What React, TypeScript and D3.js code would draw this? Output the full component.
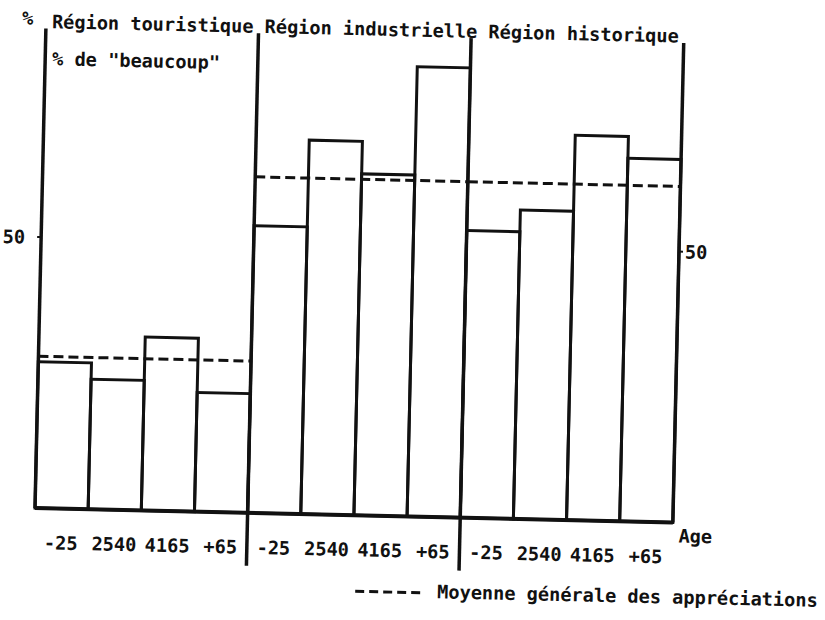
import { scaleBand, scaleLinear } from "d3";

const regions = ["Région touristique", "Région industrielle", "Région historique"];
const ageGroups = ["-25", "2540", "4165", "+65"];
const touristique = [27, 24, 32, 22];
const industrielle = [53, 69, 63, 83];
const historique = [53, 57, 71, 67];
const moyennes = [28, 62, 62];
const yTicks = [50];

const seriesByRegion = [touristique, industrielle, historique];

export default function App() {
  const width = 825;
  const height = 620;
  // the scanned page is slightly tilted, the whole chart is drawn in a rotated frame
  const originX = 35;
  const originY = 508;
  const tilt = 1.3;
  const plotWidth = 638;
  const axisTop = 88.5;
  const dividerDrop = 53;
  const font = "'DejaVu Sans Mono', 'Liberation Mono', monospace";

  const bars = regions.flatMap((region, r) =>
    ageGroups.map((age, a) => ({ key: `${region}|${age}`, region, age, value: seriesByRegion[r][a] }))
  );

  const x = scaleBand<string>()
    .domain(bars.map((b) => b.key))
    .range([0, plotWidth])
    .padding(0);

  const regionX = scaleBand<string>().domain(regions).range([0, plotWidth]).padding(0);

  const y = scaleLinear().domain([0, 50]).range([0, -271]);

  return (
    <svg
      width={width}
      height={height}
      viewBox={`0 0 ${width} ${height}`}
      style={{ position: "absolute", left: 0, top: 0, background: "#fff" }}
    >
      <rect width={width} height={height} fill="#fff" />
      <g
        transform={`translate(${originX},${originY}) rotate(${tilt})`}
        fontFamily={font}
        fontWeight="bold"
        fill="#111"
      >
        {/* title lines */}
        <text x={-24} y={-483} fontSize="18.6">
          %
        </text>
        <text x={6} y={-480} fontSize="18.6" xmlSpace="preserve">
          {regions.join(" ")}
        </text>
        <text x={7} y={-443} fontSize="18.6">
          % de "beaucoup"
        </text>

        {/* bars */}
        {bars.map((b) => (
          <rect
            key={b.key}
            x={x(b.key)}
            y={y(b.value)}
            width={x.bandwidth()}
            height={-y(b.value)}
            fill="none"
            stroke="#111"
            strokeWidth="3"
          />
        ))}

        {/* mean lines */}
        {regions.map((region, r) => (
          <line
            key={region}
            x1={regionX(region)}
            x2={(regionX(region) ?? 0) + regionX.bandwidth()}
            y1={y(moyennes[r])}
            y2={y(moyennes[r])}
            stroke="#111"
            strokeWidth="3"
            strokeDasharray="10 5"
          />
        ))}

        {/* axes and region dividers */}
        <line x1={0} x2={0} y1={y(axisTop)} y2={0} stroke="#111" strokeWidth="3.5" />
        <line x1={plotWidth} x2={plotWidth} y1={y(axisTop)} y2={0} stroke="#111" strokeWidth="3.5" />
        {regions.slice(1).map((region) => (
          <line
            key={region}
            x1={regionX(region)}
            x2={regionX(region)}
            y1={y(axisTop)}
            y2={dividerDrop}
            stroke="#111"
            strokeWidth="3.5"
          />
        ))}
        <line x1={0} x2={plotWidth} y1={0} y2={0} stroke="#111" strokeWidth="4" />

        {/* y ticks on both sides */}
        {yTicks.map((t) => (
          <g key={t}>
            <line x1={-4} x2={0} y1={y(t)} y2={y(t)} stroke="#111" strokeWidth="2" />
            <line x1={plotWidth} x2={plotWidth + 4} y1={y(t)} y2={y(t)} stroke="#111" strokeWidth="2" />
            <text x={-16} y={y(t)} dy="0.36em" textAnchor="end" fontSize="18.6">
              {t}
            </text>
            <text x={plotWidth + 6} y={y(t)} dy="0.36em" fontSize="18.6">
              {t}
            </text>
          </g>
        ))}

        {/* age labels */}
        {bars.map((b) => (
          <text
            key={b.key}
            x={(x(b.key) ?? 0) + x.bandwidth() / 2}
            y={41}
            textAnchor="middle"
            fontSize="18.6"
          >
            {b.age}
          </text>
        ))}
        <text x={plotWidth + 6} y={20} fontSize="18.6">
          Age
        </text>

        {/* legend */}
        <line x1={322} x2={390} y1={76} y2={76} stroke="#111" strokeWidth="3" strokeDasharray="9 5" />
        <text x={404} y={81} fontSize="18.6">
          Moyenne générale des appréciations
        </text>
      </g>
    </svg>
  );
}
